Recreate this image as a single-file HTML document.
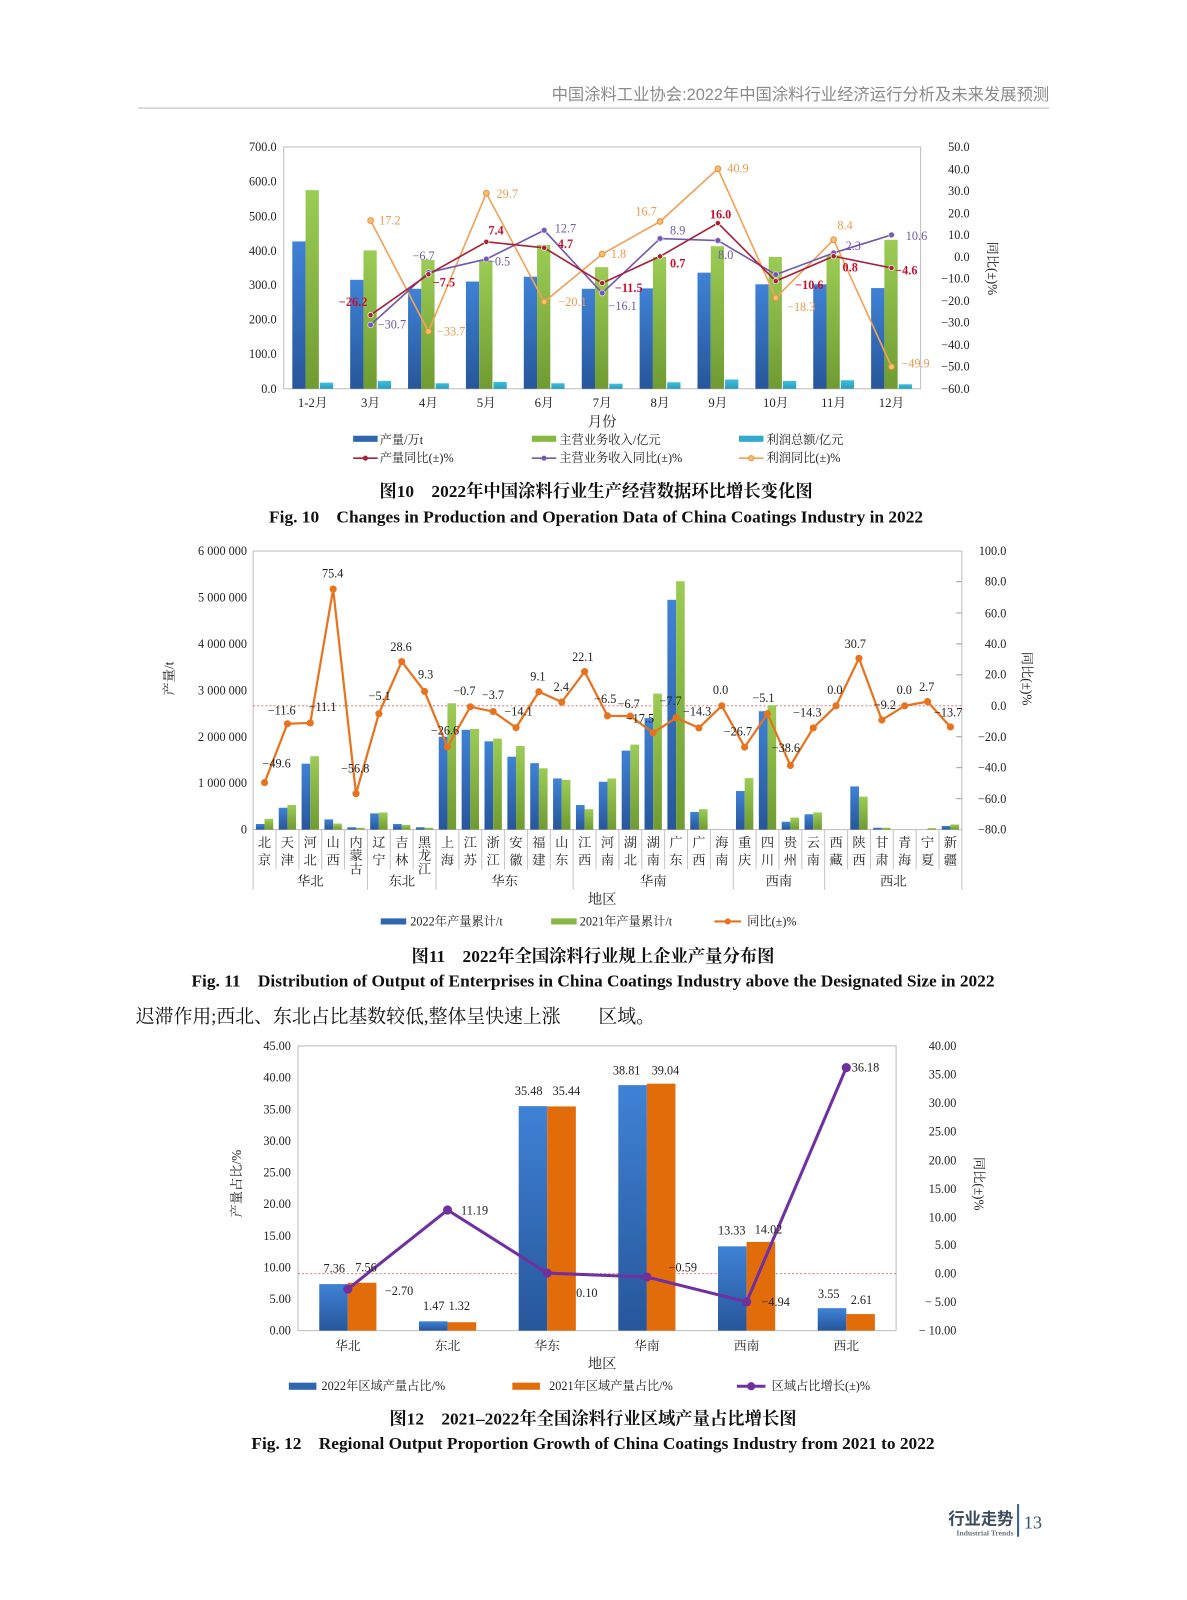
<!DOCTYPE html>
<html><head><meta charset="utf-8"><style>
html,body{margin:0;padding:0;background:#fff;}
svg{display:block;}
.t{font-family:"Liberation Serif","Noto Serif CJK SC",serif;font-size:12.5px;fill:#222;}
.s{font-family:"Liberation Serif","Noto Serif CJK SC",serif;font-size:12px;fill:#222;}
.cap{font-family:"Liberation Serif","Noto Serif CJK SC",serif;font-size:17px;font-weight:bold;fill:#111;}
.r{fill:#c8102e;font-weight:bold;}
.p{fill:#6f56a8;}
.o{fill:#ee9a4a;}
</style></head><body>
<svg width="1187" height="1600" viewBox="0 0 1163 1568" preserveAspectRatio="none" xmlns="http://www.w3.org/2000/svg">
<defs>
<linearGradient id="gb" x1="0" y1="0" x2="0" y2="1"><stop offset="0" stop-color="#3f82d6"/><stop offset="1" stop-color="#27569a"/></linearGradient>
<linearGradient id="gg" x1="0" y1="0" x2="0" y2="1"><stop offset="0" stop-color="#9ccc55"/><stop offset="1" stop-color="#6f9b32"/></linearGradient>
<linearGradient id="gc" x1="0" y1="0" x2="0" y2="1"><stop offset="0" stop-color="#3cc0dc"/><stop offset="1" stop-color="#2a9cbc"/></linearGradient>
</defs>
<rect width="1163" height="1568" fill="#fff"/>
<!-- header -->
<text x="1028" y="98" text-anchor="end" style="font-family:'Liberation Sans','Noto Sans CJK SC',sans-serif;font-size:16px;fill:#8a8a8a;">中国涂料工业协会:2022年中国涂料行业经济运行分析及未来发展预测</text>
<line x1="135" y1="106" x2="1028" y2="106" stroke="#cfcfcf" stroke-width="1.5"/>

<!-- ================= CHART 1 ================= -->
<rect x="278" y="144" width="624" height="237" fill="none" stroke="#bdbdbd"/>
<g class="s" text-anchor="end">
<text x="271" y="148">700.0</text><text x="271" y="182">600.0</text><text x="271" y="216">500.0</text><text x="271" y="250">400.0</text><text x="271" y="283">300.0</text><text x="271" y="317">200.0</text><text x="271" y="351">100.0</text><text x="271" y="385">0.0</text>
</g>
<g class="s" text-anchor="end">
<text x="950" y="148">50.0</text><text x="950" y="170">40.0</text><text x="950" y="191">30.0</text><text x="950" y="213">20.0</text><text x="950" y="234">10.0</text><text x="950" y="256">0.0</text><text x="950" y="277">−10.0</text><text x="950" y="299">−20.0</text><text x="950" y="320">−30.0</text><text x="950" y="342">−40.0</text><text x="950" y="363">−50.0</text><text x="950" y="385">−60.0</text>
</g>
<text class="t" transform="translate(968,263) rotate(90)" text-anchor="middle" style="font-size:13px">同比(±)%</text>
<g fill="url(#gb)">
<rect x="286.4" y="236.6" width="13" height="144.4"/><rect x="343.1" y="274.2" width="13" height="106.8"/><rect x="399.8" y="283" width="13" height="98"/><rect x="456.5" y="275.9" width="13" height="105.1"/><rect x="513.2" y="271.2" width="13" height="109.8"/><rect x="570" y="283" width="13" height="98"/><rect x="626.7" y="282.6" width="13" height="98.4"/><rect x="683.4" y="267.2" width="13" height="113.8"/><rect x="740.1" y="278.6" width="13" height="102.4"/><rect x="796.8" y="278.6" width="13" height="102.4"/><rect x="853.5" y="282.3" width="13" height="98.7"/>
</g>
<g fill="url(#gg)">
<rect x="299.4" y="186.3" width="13" height="194.7"/><rect x="356.1" y="245.4" width="13" height="135.6"/><rect x="412.8" y="254.8" width="13" height="126.2"/><rect x="469.5" y="255.1" width="13" height="125.9"/><rect x="526.2" y="240" width="13" height="141"/><rect x="583" y="261.8" width="13" height="119.2"/><rect x="639.7" y="251.8" width="13" height="129.2"/><rect x="696.4" y="241.3" width="13" height="139.7"/><rect x="753.1" y="251.8" width="13" height="129.2"/><rect x="809.8" y="250.1" width="13" height="130.9"/><rect x="866.5" y="235" width="13" height="146"/>
</g>
<g fill="url(#gc)">
<rect x="313.4" y="375" width="13" height="6"/><rect x="370.1" y="373.3" width="13" height="7.7"/><rect x="426.8" y="375.6" width="13" height="5.4"/><rect x="483.5" y="374.3" width="13" height="6.7"/><rect x="540.2" y="375.6" width="13" height="5.4"/><rect x="597" y="376" width="13" height="5"/><rect x="653.7" y="374.6" width="13" height="6.4"/><rect x="710.4" y="371.9" width="13" height="9.1"/><rect x="767.1" y="373.3" width="13" height="7.7"/><rect x="823.8" y="372.6" width="13" height="8.4"/><rect x="880.5" y="376.6" width="13" height="4.4"/>
</g>
<polyline fill="none" stroke="#f0a258" stroke-width="1.6" points="363.1,216.1 419.8,324.8 476.5,189.4 533.2,295.8 590,249 646.7,217.1 703.4,165.4 760.1,291.9 816.8,234.9 873.5,359.4"/>
<polyline fill="none" stroke="#7358b0" stroke-width="1.6" points="363.1,318.4 419.8,267.1 476.5,253.9 533.2,225.7 590,287.2 646.7,233.8 703.4,235.7 760.1,269.1 816.8,247.9 873.5,230.2"/>
<polyline fill="none" stroke="#a8203a" stroke-width="1.6" points="363.1,308.8 419.8,268.8 476.5,237 533.2,242.8 590,277.4 646.7,251.3 703.4,218.6 760.1,275.5 816.8,251.1 873.5,262.6"/>
<g fill="#f6c070" stroke="#e8913a" stroke-width="1">
<circle cx="363.1" cy="216.1" r="2.8"/><circle cx="419.8" cy="324.8" r="2.8"/><circle cx="476.5" cy="189.4" r="2.8"/><circle cx="533.2" cy="295.8" r="2.8"/><circle cx="590" cy="249" r="2.8"/><circle cx="646.7" cy="217.1" r="2.8"/><circle cx="703.4" cy="165.4" r="2.8"/><circle cx="760.1" cy="291.9" r="2.8"/><circle cx="816.8" cy="234.9" r="2.8"/><circle cx="873.5" cy="359.4" r="2.8"/>
</g>
<g fill="#7358b0" stroke="#d8d0ee" stroke-width="0.8">
<circle cx="363.1" cy="318.4" r="2.8"/><circle cx="419.8" cy="267.1" r="2.8"/><circle cx="476.5" cy="253.9" r="2.8"/><circle cx="533.2" cy="225.7" r="2.8"/><circle cx="590" cy="287.2" r="2.8"/><circle cx="646.7" cy="233.8" r="2.8"/><circle cx="703.4" cy="235.7" r="2.8"/><circle cx="760.1" cy="269.1" r="2.8"/><circle cx="816.8" cy="247.9" r="2.8"/><circle cx="873.5" cy="230.2" r="2.8"/>
</g>
<g fill="#a8203a" stroke="#eec" stroke-width="0.8">
<circle cx="363.1" cy="308.8" r="2.6"/><circle cx="419.8" cy="268.8" r="2.6"/><circle cx="476.5" cy="237" r="2.6"/><circle cx="533.2" cy="242.8" r="2.6"/><circle cx="590" cy="277.4" r="2.6"/><circle cx="646.7" cy="251.3" r="2.6"/><circle cx="703.4" cy="218.6" r="2.6"/><circle cx="760.1" cy="275.5" r="2.6"/><circle cx="816.8" cy="251.1" r="2.6"/><circle cx="873.5" cy="262.6" r="2.6"/>
</g>
<g class="s" text-anchor="middle">
<text class="o" x="382" y="220">17.2</text><text class="o" x="497" y="194">29.7</text><text class="o" x="633" y="211">16.7</text><text class="o" x="723" y="169">40.9</text><text class="o" x="828" y="225">8.4</text><text class="o" x="442" y="329">−33.7</text><text class="o" x="561" y="300">−20.1</text><text class="o" x="606" y="253">1.8</text><text class="o" x="785" y="305">−18.3</text><text class="o" x="897" y="360">−49.9</text>
<text class="r" x="346" y="300">−26.2</text><text class="r" x="486" y="230">7.4</text><text class="r" x="554" y="243">4.7</text><text class="r" x="435" y="281">−7.5</text><text class="r" x="616" y="286">−11.5</text><text class="r" x="664" y="262">0.7</text><text class="r" x="706" y="214">16.0</text><text class="r" x="793" y="283">−10.6</text><text class="r" x="833" y="266">0.8</text><text class="r" x="888" y="269">−4.6</text>
<text class="p" x="384" y="322">−30.7</text><text class="p" x="415" y="255">−6.7</text><text class="p" x="489" y="260">−0.5</text><text class="p" x="554" y="228">12.7</text><text class="p" x="610" y="304">−16.1</text><text class="p" x="664" y="230">8.9</text><text class="p" x="711" y="254">8.0</text><text class="p" x="836" y="245">2.3</text><text class="p" x="898" y="235">10.6</text>
</g>
<g class="t" text-anchor="middle">
<text x="306.4" y="399">1-2月</text><text x="363.1" y="399">3月</text><text x="419.8" y="399">4月</text><text x="476.5" y="399">5月</text><text x="533.2" y="399">6月</text><text x="590" y="399">7月</text><text x="646.7" y="399">8月</text><text x="703.4" y="399">9月</text><text x="760.1" y="399">10月</text><text x="816.8" y="399">11月</text><text x="873.5" y="399">12月</text>
<text x="590" y="418" style="font-size:14px">月份</text>
</g>
<rect x="346" y="427" width="24" height="6" fill="#2f66b0"/><text class="s" x="372" y="435">产量/万t</text>
<rect x="521" y="427" width="24" height="6" fill="#88b844"/><text class="s" x="548" y="435">主营业务收入/亿元</text>
<rect x="724" y="427" width="24" height="6" fill="#31aacb"/><text class="s" x="751" y="435">利润总额/亿元</text>
<line x1="346" y1="449" x2="370" y2="449" stroke="#a8203a" stroke-width="1.6"/><circle cx="358" cy="449" r="2.5" fill="#a8203a"/><text class="s" x="372" y="453">产量同比(±)%</text>
<line x1="521" y1="449" x2="545" y2="449" stroke="#7358b0" stroke-width="1.6"/><circle cx="533" cy="449" r="2.5" fill="#7358b0"/><text class="s" x="548" y="453">主营业务收入同比(±)%</text>
<line x1="724" y1="449" x2="748" y2="449" stroke="#f0a258" stroke-width="1.6"/><circle cx="736" cy="449" r="2.5" fill="#f6c070" stroke="#e8913a"/><text class="s" x="751" y="453">利润同比(±)%</text>
<text class="cap" x="584" y="487" text-anchor="middle">图10　2022年中国涂料行业生产经营数据环比增长变化图</text>
<text class="cap" x="584" y="512" text-anchor="middle">Fig. 10　Changes in Production and Operation Data of China Coatings Industry in 2022</text>

<!-- ================= CHART 2 ================= -->
<rect x="248" y="540" width="694.4" height="273" fill="none" stroke="#bdbdbd"/>
<line x1="248" y1="691.7" x2="942" y2="691.7" stroke="#e06060" stroke-width="0.8" stroke-dasharray="2,2"/>
<g stroke="#9a9a9a" stroke-width="1">
<line x1="942" y1="570" x2="937" y2="570"/><line x1="942" y1="600.7" x2="937" y2="600.7"/><line x1="942" y1="631" x2="937" y2="631"/><line x1="942" y1="661.3" x2="937" y2="661.3"/><line x1="942" y1="722" x2="937" y2="722"/><line x1="942" y1="752.3" x2="937" y2="752.3"/><line x1="942" y1="782.7" x2="937" y2="782.7"/>
</g>
<g class="s" text-anchor="end">
<text x="242" y="544">6 000 000</text><text x="242" y="589.5">5 000 000</text><text x="242" y="635">4 000 000</text><text x="242" y="680.5">3 000 000</text><text x="242" y="726">2 000 000</text><text x="242" y="771.5">1 000 000</text><text x="242" y="817">0</text>
</g>
<g class="s" text-anchor="end">
<text x="986" y="544">100.0</text><text x="986" y="574">80.0</text><text x="986" y="605">60.0</text><text x="986" y="635">40.0</text><text x="986" y="665">20.0</text><text x="986" y="696">0.0</text><text x="986" y="726">−20.0</text><text x="986" y="756">−40.0</text><text x="986" y="787">−60.0</text><text x="986" y="817">−80.0</text>
</g>
<text class="t" transform="translate(170,665) rotate(-90)" text-anchor="middle" style="font-size:13px">产量/t</text>
<text class="t" transform="translate(1002,665) rotate(90)" text-anchor="middle" style="font-size:13px">同比(±)%</text>
<g fill="url(#gb)">
<rect x="250.7" y="807.5" width="8.5" height="5.5"/><rect x="273.1" y="791.6" width="8.5" height="21.4"/><rect x="295.5" y="748.4" width="8.5" height="64.6"/><rect x="317.9" y="803" width="8.5" height="10"/><rect x="340.3" y="810.7" width="8.5" height="2.3"/><rect x="362.7" y="797.1" width="8.5" height="15.9"/><rect x="385.1" y="807.5" width="8.5" height="5.5"/><rect x="407.5" y="810.7" width="8.5" height="2.3"/><rect x="429.9" y="722" width="8.5" height="91"/><rect x="452.3" y="715.2" width="8.5" height="97.8"/><rect x="474.7" y="726.5" width="8.5" height="86.5"/><rect x="497.1" y="741.6" width="8.5" height="71.4"/><rect x="519.5" y="747.9" width="8.5" height="65.1"/><rect x="541.9" y="762.9" width="8.5" height="50.1"/><rect x="564.3" y="788.9" width="8.5" height="24.1"/><rect x="586.7" y="766.1" width="8.5" height="46.9"/><rect x="609.1" y="735.6" width="8.5" height="77.4"/><rect x="631.5" y="703.8" width="8.5" height="109.2"/><rect x="653.9" y="587.8" width="8.5" height="225.2"/><rect x="676.3" y="795.7" width="8.5" height="17.3"/><rect x="721.1" y="775.2" width="8.5" height="37.8"/><rect x="743.5" y="697" width="8.5" height="116"/><rect x="765.9" y="805.3" width="8.5" height="7.7"/><rect x="788.3" y="798" width="8.5" height="15"/><rect x="833.1" y="770.7" width="8.5" height="42.3"/><rect x="855.5" y="811.2" width="8.5" height="1.8"/><rect x="922.7" y="809.4" width="8.5" height="3.6"/>
</g>
<g fill="url(#gg)">
<rect x="259.2" y="802.5" width="8.5" height="10.5"/><rect x="281.6" y="788.9" width="8.5" height="24.1"/><rect x="304" y="741.1" width="8.5" height="71.9"/><rect x="326.4" y="807.1" width="8.5" height="5.9"/><rect x="348.8" y="811.2" width="8.5" height="1.8"/><rect x="371.2" y="796.2" width="8.5" height="16.8"/><rect x="393.6" y="808.4" width="8.5" height="4.6"/><rect x="416" y="811.2" width="8.5" height="1.8"/><rect x="438.4" y="689.2" width="8.5" height="123.8"/><rect x="460.8" y="714.3" width="8.5" height="98.7"/><rect x="483.2" y="723.8" width="8.5" height="89.2"/><rect x="505.6" y="731.1" width="8.5" height="81.9"/><rect x="528" y="752.9" width="8.5" height="60.1"/><rect x="550.4" y="764.3" width="8.5" height="48.7"/><rect x="572.8" y="793" width="8.5" height="20"/><rect x="595.2" y="762.9" width="8.5" height="50.1"/><rect x="617.6" y="729.7" width="8.5" height="83.3"/><rect x="640" y="679.7" width="8.5" height="133.3"/><rect x="662.4" y="569.6" width="8.5" height="243.4"/><rect x="684.8" y="793" width="8.5" height="20"/><rect x="729.6" y="762.5" width="8.5" height="50.5"/><rect x="752" y="691.1" width="8.5" height="121.9"/><rect x="774.4" y="801.2" width="8.5" height="11.8"/><rect x="796.8" y="796.2" width="8.5" height="16.8"/><rect x="841.6" y="780.7" width="8.5" height="32.3"/><rect x="864" y="811.2" width="8.5" height="1.8"/><rect x="908.8" y="811.6" width="8.5" height="1.4"/><rect x="931.2" y="808" width="8.5" height="5"/>
</g>
<polyline fill="none" stroke="#e8731e" stroke-width="2.2" points="259.2,766.9 281.6,709.3 304,708.5 326.4,577.3 348.8,777.8 371.2,699.4 393.6,648.3 416,677.6 438.4,732 460.8,692.7 483.2,697.3 505.6,713.1 528,677.9 550.4,688 572.8,658.2 595.2,701.5 617.6,701.8 640,718.2 662.4,703.4 684.8,713.4 707.2,691.7 729.6,732.2 752,699.4 774.4,750.2 796.8,713.4 819.2,691.7 841.6,645.1 864,705.6 886.4,691.7 908.8,687.6 931.2,712.4"/>
<g fill="#e8731e">
<circle cx="259.2" cy="766.9" r="3.5"/><circle cx="281.6" cy="709.3" r="3.5"/><circle cx="304" cy="708.5" r="3.5"/><circle cx="326.4" cy="577.3" r="3.5"/><circle cx="348.8" cy="777.8" r="3.5"/><circle cx="371.2" cy="699.4" r="3.5"/><circle cx="393.6" cy="648.3" r="3.5"/><circle cx="416" cy="677.6" r="3.5"/><circle cx="438.4" cy="732" r="3.5"/><circle cx="460.8" cy="692.7" r="3.5"/><circle cx="483.2" cy="697.3" r="3.5"/><circle cx="505.6" cy="713.1" r="3.5"/><circle cx="528" cy="677.9" r="3.5"/><circle cx="550.4" cy="688" r="3.5"/><circle cx="572.8" cy="658.2" r="3.5"/><circle cx="595.2" cy="701.5" r="3.5"/><circle cx="617.6" cy="701.8" r="3.5"/><circle cx="640" cy="718.2" r="3.5"/><circle cx="662.4" cy="703.4" r="3.5"/><circle cx="684.8" cy="713.4" r="3.5"/><circle cx="707.2" cy="691.7" r="3.5"/><circle cx="729.6" cy="732.2" r="3.5"/><circle cx="752" cy="699.4" r="3.5"/><circle cx="774.4" cy="750.2" r="3.5"/><circle cx="796.8" cy="713.4" r="3.5"/><circle cx="819.2" cy="691.7" r="3.5"/><circle cx="841.6" cy="645.1" r="3.5"/><circle cx="864" cy="705.6" r="3.5"/><circle cx="886.4" cy="691.7" r="3.5"/><circle cx="908.8" cy="687.6" r="3.5"/><circle cx="931.2" cy="712.4" r="3.5"/>
</g>
<g class="s" text-anchor="middle">
<text x="326" y="566">75.4</text><text x="271" y="752">−49.6</text><text x="276" y="700">−11.6</text><text x="316" y="697">−11.1</text><text x="348" y="757">−56.8</text><text x="372" y="686">−5.1</text><text x="393" y="638">28.6</text><text x="417" y="665">9.3</text><text x="436" y="720">−26.6</text><text x="455" y="681">−0.7</text><text x="483" y="685">−3.7</text><text x="508" y="701">−14.1</text><text x="527" y="667">9.1</text><text x="550" y="677">2.4</text><text x="571" y="648">22.1</text><text x="593" y="689">−6.5</text><text x="616" y="694">−6.7</text><text x="627" y="708">−17.5</text><text x="657" y="691">−7.7</text><text x="683" y="701">−14.3</text><text x="706" y="680">0.0</text><text x="723" y="721">−26.7</text><text x="748" y="688">−5.1</text><text x="770" y="737">−38.6</text><text x="791" y="702">−14.3</text><text x="818" y="680">0.0</text><text x="838" y="635">30.7</text><text x="867" y="695">−9.2</text><text x="886" y="680">0.0</text><text x="908" y="677">2.7</text><text x="929" y="702">−13.7</text>
</g>
<g stroke="#c4c4c4" stroke-width="1">
<line x1="248" y1="813" x2="248" y2="872"/><line x1="270.4" y1="813" x2="270.4" y2="852"/><line x1="292.8" y1="813" x2="292.8" y2="852"/><line x1="315.2" y1="813" x2="315.2" y2="852"/><line x1="337.6" y1="813" x2="337.6" y2="852"/><line x1="360" y1="813" x2="360" y2="872"/><line x1="382.4" y1="813" x2="382.4" y2="852"/><line x1="404.8" y1="813" x2="404.8" y2="852"/><line x1="427.2" y1="813" x2="427.2" y2="872"/><line x1="449.6" y1="813" x2="449.6" y2="852"/><line x1="472" y1="813" x2="472" y2="852"/><line x1="494.4" y1="813" x2="494.4" y2="852"/><line x1="516.8" y1="813" x2="516.8" y2="852"/><line x1="539.2" y1="813" x2="539.2" y2="852"/><line x1="561.6" y1="813" x2="561.6" y2="872"/><line x1="584" y1="813" x2="584" y2="852"/><line x1="606.4" y1="813" x2="606.4" y2="852"/><line x1="628.8" y1="813" x2="628.8" y2="852"/><line x1="651.2" y1="813" x2="651.2" y2="852"/><line x1="673.6" y1="813" x2="673.6" y2="852"/><line x1="696" y1="813" x2="696" y2="852"/><line x1="718.4" y1="813" x2="718.4" y2="872"/><line x1="740.8" y1="813" x2="740.8" y2="852"/><line x1="763.2" y1="813" x2="763.2" y2="852"/><line x1="785.6" y1="813" x2="785.6" y2="852"/><line x1="808" y1="813" x2="808" y2="872"/><line x1="830.4" y1="813" x2="830.4" y2="852"/><line x1="852.8" y1="813" x2="852.8" y2="852"/><line x1="875.2" y1="813" x2="875.2" y2="852"/><line x1="897.6" y1="813" x2="897.6" y2="852"/><line x1="920" y1="813" x2="920" y2="852"/><line x1="942.4" y1="813" x2="942.4" y2="872"/>
</g>
<g class="t" text-anchor="middle" style="font-size:13px">
<text x="259.2" y="830">北</text><text x="259.2" y="847">京</text>
<text x="281.6" y="830">天</text><text x="281.6" y="847">津</text>
<text x="304" y="830">河</text><text x="304" y="847">北</text>
<text x="326.4" y="830">山</text><text x="326.4" y="847">西</text>
<text x="348.8" y="830">内</text><text x="348.8" y="843">蒙</text><text x="348.8" y="856">古</text>
<text x="371.2" y="830">辽</text><text x="371.2" y="847">宁</text>
<text x="393.6" y="830">吉</text><text x="393.6" y="847">林</text>
<text x="416" y="830">黑</text><text x="416" y="843">龙</text><text x="416" y="856">江</text>
<text x="438.4" y="830">上</text><text x="438.4" y="847">海</text>
<text x="460.8" y="830">江</text><text x="460.8" y="847">苏</text>
<text x="483.2" y="830">浙</text><text x="483.2" y="847">江</text>
<text x="505.6" y="830">安</text><text x="505.6" y="847">徽</text>
<text x="528" y="830">福</text><text x="528" y="847">建</text>
<text x="550.4" y="830">山</text><text x="550.4" y="847">东</text>
<text x="572.8" y="830">江</text><text x="572.8" y="847">西</text>
<text x="595.2" y="830">河</text><text x="595.2" y="847">南</text>
<text x="617.6" y="830">湖</text><text x="617.6" y="847">北</text>
<text x="640" y="830">湖</text><text x="640" y="847">南</text>
<text x="662.4" y="830">广</text><text x="662.4" y="847">东</text>
<text x="684.8" y="830">广</text><text x="684.8" y="847">西</text>
<text x="707.2" y="830">海</text><text x="707.2" y="847">南</text>
<text x="729.6" y="830">重</text><text x="729.6" y="847">庆</text>
<text x="752" y="830">四</text><text x="752" y="847">川</text>
<text x="774.4" y="830">贵</text><text x="774.4" y="847">州</text>
<text x="796.8" y="830">云</text><text x="796.8" y="847">南</text>
<text x="819.2" y="830">西</text><text x="819.2" y="847">藏</text>
<text x="841.6" y="830">陕</text><text x="841.6" y="847">西</text>
<text x="864" y="830">甘</text><text x="864" y="847">肃</text>
<text x="886.4" y="830">青</text><text x="886.4" y="847">海</text>
<text x="908.8" y="830">宁</text><text x="908.8" y="847">夏</text>
<text x="931.2" y="830">新</text><text x="931.2" y="847">疆</text>
<text x="304" y="868">华北</text><text x="393.6" y="868">东北</text><text x="494.4" y="868">华东</text><text x="640" y="868">华南</text><text x="763.2" y="868">西南</text><text x="875.2" y="868">西北</text>
<text x="590" y="886" style="font-size:14px">地区</text>
</g>
<rect x="373" y="900" width="25" height="6" fill="#2f66b0"/><text class="s" x="402" y="907">2022年产量累计/t</text>
<rect x="540" y="900" width="25" height="6" fill="#88b844"/><text class="s" x="568" y="907">2021年产量累计/t</text>
<line x1="700" y1="903" x2="726" y2="903" stroke="#e8731e" stroke-width="2"/><circle cx="713" cy="903" r="3" fill="#e8731e"/><text class="s" x="732" y="907">同比(±)%</text>
<text class="cap" x="581" y="943" text-anchor="middle">图11　2022年全国涂料行业规上企业产量分布图</text>
<text class="cap" x="581" y="967" text-anchor="middle">Fig. 11　Distribution of Output of Enterprises in China Coatings Industry above the Designated Size in 2022</text>
<text x="133" y="1002" style="font-family:'Liberation Serif','Noto Serif CJK SC',serif;font-size:18.5px;fill:#111;">迟滞作用;西北、东北占比基数较低,整体呈快速上涨　　区域。</text>

<!-- ================= CHART 3 ================= -->
<g>
<rect x="292" y="1025" width="586" height="279" fill="none" stroke="#bdbdbd"/>
<line x1="292" y1="1248.2" x2="878" y2="1248.2" stroke="#e06060" stroke-width="0.8" stroke-dasharray="2,2"/>
<g class="s" text-anchor="end">
<text x="285" y="1029">45.00</text><text x="285" y="1060">40.00</text><text x="285" y="1091">35.00</text><text x="285" y="1122">30.00</text><text x="285" y="1153">25.00</text><text x="285" y="1184">20.00</text><text x="285" y="1215">15.00</text><text x="285" y="1246">10.00</text><text x="285" y="1277">5.00</text><text x="285" y="1308">0.00</text>
</g>
<g class="s" text-anchor="end">
<text x="937" y="1029">40.00</text><text x="937" y="1057">35.00</text><text x="937" y="1085">30.00</text><text x="937" y="1113">25.00</text><text x="937" y="1141">20.00</text><text x="937" y="1169">15.00</text><text x="937" y="1197">10.00</text><text x="937" y="1224">5.00</text><text x="937" y="1252">0.00</text><text x="937" y="1280">− 5.00</text><text x="937" y="1308">− 10.00</text>
</g>
<text class="t" transform="translate(236,1160) rotate(-90)" text-anchor="middle" style="font-size:13px">产量占比/%</text>
<text class="t" transform="translate(955,1160) rotate(90)" text-anchor="middle" style="font-size:13px">同比(±)%</text>
<g fill="url(#gb)">
<rect x="312.8" y="1258.4" width="28" height="45.6"/><rect x="410.5" y="1294.9" width="28" height="9.1"/><rect x="508.2" y="1084" width="28" height="220"/><rect x="605.8" y="1063.4" width="28" height="240.6"/><rect x="703.5" y="1221.4" width="28" height="82.6"/><rect x="801.2" y="1282" width="28" height="22"/>
</g>
<g fill="#e36c0a">
<rect x="340.8" y="1257.1" width="28" height="46.9"/><rect x="438.5" y="1295.8" width="28" height="8.2"/><rect x="536.2" y="1084.3" width="28" height="219.7"/><rect x="633.8" y="1062" width="28" height="242"/><rect x="731.5" y="1217.1" width="28" height="86.9"/><rect x="829.2" y="1287.8" width="28" height="16.2"/>
</g>
<polyline fill="none" stroke="#7030a0" stroke-width="3" points="340.8,1263.3 438.5,1185.8 536.2,1247.6 633.8,1251.5 731.5,1275.8 829.2,1046.3"/>
<g fill="#7030a0">
<circle cx="340.8" cy="1263.3" r="4.5"/><circle cx="438.5" cy="1185.8" r="4.5"/><circle cx="536.2" cy="1247.6" r="4.5"/><circle cx="633.8" cy="1251.5" r="4.5"/><circle cx="731.5" cy="1275.8" r="4.5"/><circle cx="829.2" cy="1046.3" r="4.5"/>
</g>
<g class="s" text-anchor="middle">
<text x="327.5" y="1247">7.36</text><text x="358.6" y="1246">7.56</text><text x="391" y="1269">−2.70</text><text x="425" y="1284">1.47</text><text x="450" y="1284">1.32</text><text x="465" y="1190">11.19</text><text x="518" y="1073">35.48</text><text x="555" y="1073">35.44</text><text x="575" y="1271">0.10</text><text x="614" y="1053">38.81</text><text x="652" y="1053">39.04</text><text x="669" y="1246">−0.59</text><text x="717" y="1210">13.33</text><text x="753" y="1209">14.02</text><text x="760" y="1280">−4.94</text><text x="812" y="1272">3.55</text><text x="844" y="1278">2.61</text><text x="848" y="1050">36.18</text>
</g>
<g class="t" text-anchor="middle">
<text x="340.8" y="1323">华北</text><text x="438.5" y="1323">东北</text><text x="536.2" y="1323">华东</text><text x="633.8" y="1323">华南</text><text x="731.5" y="1323">西南</text><text x="829.2" y="1323">西北</text>
<text x="590" y="1341" style="font-size:14px">地区</text>
</g>
<rect x="283" y="1355" width="27" height="7" fill="#2f66b0"/><text class="s" x="315" y="1362">2022年区域产量占比/%</text>
<rect x="502" y="1355" width="27" height="7" fill="#e36c0a"/><text class="s" x="538" y="1362">2021年区域产量占比/%</text>
<line x1="722" y1="1358.5" x2="750" y2="1358.5" stroke="#7030a0" stroke-width="3"/><circle cx="736" cy="1358.5" r="4" fill="#7030a0"/><text class="s" x="756" y="1362">区域占比增长(±)%</text>
<text class="cap" x="581" y="1396" text-anchor="middle">图12　2021–2022年全国涂料行业区域产量占比增长图</text>
<text class="cap" x="581" y="1420" text-anchor="middle">Fig. 12　Regional Output Proportion Growth of China Coatings Industry from 2021 to 2022</text>
</g>

<!-- footer -->
<text x="993" y="1494" text-anchor="end" style="font-family:'Liberation Sans','Noto Sans CJK SC',sans-serif;font-size:16px;font-weight:bold;fill:#3b4a5c;">行业走势</text>
<text x="993" y="1505" text-anchor="end" style="font-family:'Liberation Serif',serif;font-size:7.5px;font-weight:bold;fill:#6a7480;">Industrial Trends</text>
<line x1="997.5" y1="1474" x2="997.5" y2="1506" stroke="#3a5f8a" stroke-width="2"/>
<text x="1003" y="1498" style="font-family:'Liberation Serif',serif;font-size:18px;fill:#35506e;">13</text>
</svg>
</body></html>
